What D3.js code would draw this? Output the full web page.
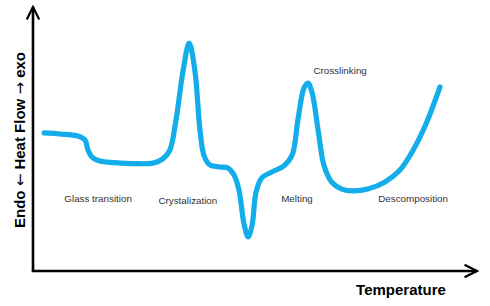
<!DOCTYPE html>
<html>
<head>
<meta charset="utf-8">
<script src="https://cdnjs.cloudflare.com/ajax/libs/d3/7.8.5/d3.min.js"></script>
<style>
  body {margin: 0; background: #fff;}
  text {font-family: "Liberation Sans", Arial, sans-serif;}
</style>
</head>
<body>
<svg id="chart" width="490" height="306"></svg>
<script>
// temperature (arbitrary units) and heat flow (arbitrary units) of the DSC trace
const temperature = [2.5, 6.1, 10.2, 11.8, 12.5, 13.4, 15.2, 18.6, 23.2, 27.3, 29.5, 31.1, 32.5, 34.1, 35.5,
  36.8, 37.95, 38.9, 40.2, 42.5, 44.3, 45.7, 46.8, 48.0, 48.9, 49.8, 50.7, 52.0, 54.3, 57.0, 58.9,
  60.2, 61.6, 62.5, 63.4, 64.8, 66.1, 67.9, 70.2, 72.7, 76.1, 80, 83.4, 86.4, 89.5, 92.5];
const heatFlow = [53.1, 52.7, 51.9, 50.4, 46.5, 43.8, 42.3, 41.7, 41.3, 41.5, 43.1, 46.5, 58.1, 76.9, 87.7,
  76.9, 54.2, 44.2, 40.8, 40, 39.6, 36.9, 31.2, 17.7, 13.1, 17.7, 30.4, 35.8, 38.1, 40.4, 44.6,
  58.1, 70.4, 72.3, 68.8, 54.2, 40.8, 34.2, 31.5, 30.8, 31.5, 34.2, 38.8, 46.5, 57.3, 70.8];

// annotation labels, placed in data units
const labelText = ["Glass transition", "Crystalization", "Melting", "Crosslinking", "Descomposition"];
const labelT = [14.8, 35.2, 60, 69.8, 86.4];
const labelH = [27.7, 27.3, 27.7, 77.3, 27.7];

const svg = d3.select("#chart");

const x = d3.scaleLinear().domain([0, 100]).range([33, 473]);
const y = d3.scaleLinear().domain([0, 100]).range([271, 11]);

// arrow heads
const defs = svg.append("defs");
defs.append("marker")
  .attr("id", "arrow")
  .attr("viewBox", "0 0 10 10")
  .attr("refX", 9).attr("refY", 5)
  .attr("markerWidth", 6).attr("markerHeight", 6)
  .attr("markerUnits", "strokeWidth")
  .attr("orient", "auto")
  .append("path")
  .attr("d", "M1,1 L9,5 L1,9")
  .attr("fill", "none")
  .attr("stroke", "#000")
  .attr("stroke-width", 1.4)
  .attr("stroke-linejoin", "miter");

// axes
svg.append("path")
  .attr("d", `M${x(0)},${y(0)} L${x(0)},7`)
  .attr("stroke", "#000").attr("stroke-width", 2.6).attr("fill", "none")
  .attr("marker-end", "url(#arrow)");
svg.append("path")
  .attr("d", `M${x(0) - 1.3},${y(0)} L477,${y(0)}`)
  .attr("stroke", "#000").attr("stroke-width", 2.6).attr("fill", "none")
  .attr("marker-end", "url(#arrow)");

// trace
const pts = temperature.map((t, i) => [t, heatFlow[i]]);
const line = d3.line()
  .x(d => x(d[0]))
  .y(d => y(d[1]))
  .curve(d3.curveCatmullRom.alpha(0.5));

svg.append("path")
  .datum(pts)
  .attr("d", line)
  .attr("fill", "none")
  .attr("stroke", "#12adea")
  .attr("stroke-width", 5.2)
  .attr("stroke-linecap", "round")
  .attr("stroke-linejoin", "round");

// labels
svg.selectAll("text.lbl")
  .data(labelText)
  .enter()
  .append("text")
  .attr("class", "lbl")
  .attr("x", (d, i) => x(labelT[i]))
  .attr("y", (d, i) => y(labelH[i]) + 3.5)
  .attr("text-anchor", "middle")
  .attr("font-size", 9.8)
  .attr("fill", "#333")
  .text(d => d);

// axis titles
svg.append("text")
  .attr("x", 401).attr("y", 295)
  .attr("text-anchor", "middle")
  .attr("font-size", 15)
  .attr("font-weight", "bold")
  .text("Temperature");

const yTitle = svg.append("text")
  .attr("transform", "translate(25,140) rotate(-90)")
  .attr("text-anchor", "middle")
  .attr("font-size", 15)
  .attr("font-weight", "bold");
yTitle.append("tspan").text("Endo ");
yTitle.append("tspan").attr("font-family", "DejaVu Sans").attr("font-weight", "normal").text("\u2190");
yTitle.append("tspan").text(" Heat Flow ");
yTitle.append("tspan").attr("font-family", "DejaVu Sans").attr("font-weight", "normal").text("\u2192");
yTitle.append("tspan").text(" exo");
</script>
</body>
</html>
